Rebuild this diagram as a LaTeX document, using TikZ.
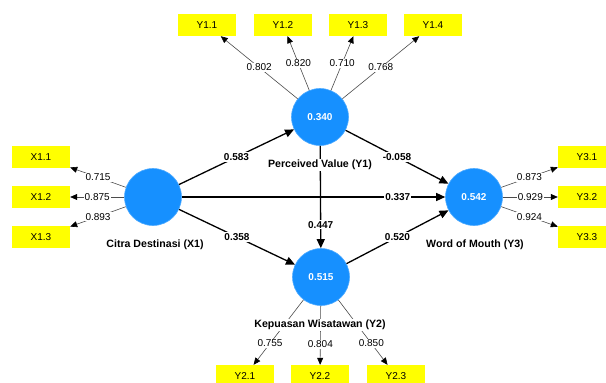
\documentclass[tikz,border=0pt]{standalone}
\usepackage{fontspec}
\setmainfont{Liberation Sans}
\usetikzlibrary{arrows.meta}
\definecolor{lv}{RGB}{22,144,255}
\definecolor{ind}{RGB}{255,255,0}
\begin{document}
\begin{tikzpicture}[x=1pt,y=-1pt,
  latent/.style={circle,fill=lv,draw=lv!75!white,line width=0.6pt,minimum size=57pt,inner sep=0pt,text=white,font=\fontsize{10}{12}\selectfont\bfseries},
  indic/.style={fill=ind,minimum width=58pt,minimum height=22pt,inner sep=0pt,font=\fontsize{10}{12}\selectfont},
  struct/.style={line width=1.3pt,-{Triangle[length=9pt,width=8pt]}},
  load/.style={draw=black!70,line width=0.6pt,-{Triangle[length=7pt,width=6pt,color=black]}},
  coef/.style={fill=white,inner sep=1pt,font=\fontsize{10}{12}\selectfont\bfseries},
  lcoef/.style={fill=white,inner sep=1pt,font=\fontsize{10}{12}\selectfont},
  lname/.style={fill=white,inner sep=1pt,font=\fontsize{10.6}{12}\selectfont\bfseries}
]
\useasboundingbox (0,0) rectangle (606,383);
\fill[white] (0,0) rectangle (606,383);

% latent variables
\node[latent] (X1) at (153,197) {};
\node[latent] (Y1) at (320,117) {0.340};
\node[latent] (Y2) at (321,277) {0.515};
\node[latent] (Y3) at (474,197) {0.542};

% indicators
\node[indic] (Y11) at (207,25) {Y1.1};
\node[indic] (Y12) at (283,25) {Y1.2};
\node[indic] (Y13) at (358,25) {Y1.3};
\node[indic] (Y14) at (433,25) {Y1.4};
\node[indic] (X11) at (41,157) {X1.1};
\node[indic] (X12) at (41,197) {X1.2};
\node[indic] (X13) at (41,237) {X1.3};
\node[indic] (Y31) at (587,157) {Y3.1};
\node[indic] (Y32) at (587,197) {Y3.2};
\node[indic] (Y33) at (587,237) {Y3.3};
\node[indic] (Y21) at (245,376) {Y2.1};
\node[indic] (Y22) at (320,376) {Y2.2};
\node[indic] (Y23) at (396,376) {Y2.3};

% loadings
\draw[load] (Y1) -- node[lcoef] {0.802} (Y11);
\draw[load] (Y1) -- node[lcoef] {0.820} (Y12);
\draw[load] (Y1) -- node[lcoef] {0.710} (Y13);
\draw[load] (Y1) -- node[lcoef] {0.768} (Y14);
\draw[load] (X1) -- node[lcoef] {0.715} (X11);
\draw[load] (X1) -- node[lcoef] {0.875} (X12);
\draw[load] (X1) -- node[lcoef] {0.893} (X13);
\draw[load] (Y3) -- node[lcoef] {0.873} (Y31);
\draw[load] (Y3) -- node[lcoef] {0.929} (Y32);
\draw[load] (Y3) -- node[lcoef] {0.924} (Y33);
\draw[load] (Y2) -- node[lcoef,pos=0.67] {0.755} (Y21);
\draw[load] (Y2) -- node[lcoef,pos=0.65] {0.804} (Y22);
\draw[load] (Y2) -- node[lcoef,pos=0.67] {0.850} (Y23);

% structural paths
\draw[struct] (X1) -- node[coef] {0.583} (Y1);
\draw[struct] (X1) -- node[coef] {0.358} (Y2);
\draw[struct] (Y1) -- node[coef] {-0.058} (Y3);
\draw[struct] (Y1) -- node[coef,pos=0.77] {0.447} (Y2);
\draw[struct] (Y2) -- node[coef] {0.520} (Y3);
\draw[struct] (X1) -- node[coef,pos=0.82] {0.337} (Y3);

% latent names
\node[lname] (nX1) at (155,245) {Citra Destinasi (X1)};
\node[lname] (nY1) at (320,165) {Perceived Value (Y1)};
\node[lname] (nY3) at (475,245) {Word of Mouth (Y3)};
\node[lname] (nY2) at (320,325) {Kepuasan Wisatawan (Y2)};
\end{tikzpicture}
\end{document}
